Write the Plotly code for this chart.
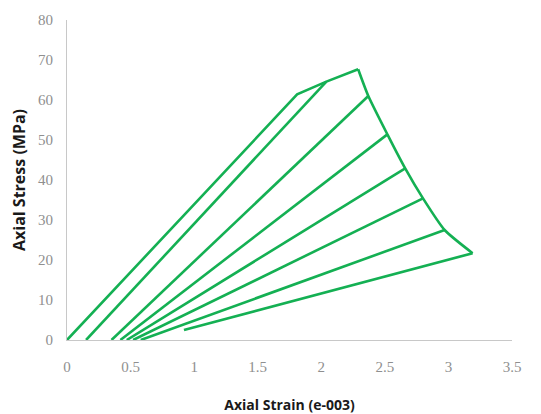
import plotly.graph_objects as go

# Loading branch (pre-peak)
loading_strain = [0.0, 1.81, 2.04, 2.29]
loading_stress = [0.0, 61.4, 64.6, 67.7]

# Post-peak envelope
envelope_strain = [2.29, 2.37, 2.52, 2.66, 2.80, 2.97, 3.19]
envelope_stress = [67.7, 61.0, 51.4, 42.9, 35.4, 27.5, 21.7]

# Unloading lines: start point on the curve -> end point
unload_start_strain = [2.04, 2.37, 2.52, 2.66, 2.80, 2.97, 3.19]
unload_start_stress = [64.6, 61.0, 51.4, 42.9, 35.4, 27.5, 21.7]
unload_end_strain = [0.15, 0.35, 0.42, 0.47, 0.52, 0.58, 0.92]
unload_end_stress = [0.0, 0.0, 0.0, 0.0, 0.0, 0.0, 2.5]

x_ticks = [0, 0.5, 1, 1.5, 2, 2.5, 3, 3.5]
x_tick_labels = ["0", "0.5", "1", "1.5", "2", "2.5", "3", "3.5"]
y_ticks = [0, 10, 20, 30, 40, 50, 60, 70, 80]

GREEN = "#14b053"
LW = 2.6

fig = go.Figure()
fig.add_trace(go.Scatter(x=loading_strain, y=loading_stress, mode="lines",
                         line=dict(color=GREEN, width=LW), showlegend=False))
fig.add_trace(go.Scatter(x=envelope_strain, y=envelope_stress, mode="lines",
                         line=dict(color=GREEN, width=LW, shape="spline", smoothing=0.6),
                         showlegend=False))
for xs, ys, xe, ye in zip(unload_start_strain, unload_start_stress,
                          unload_end_strain, unload_end_stress):
    fig.add_trace(go.Scatter(x=[xs, xe], y=[ys, ye], mode="lines",
                             line=dict(color=GREEN, width=LW), showlegend=False))

tick_font = dict(family="Liberation Serif", size=15, color="#8f8f8f")

# page body has an 8px margin, so margins are shifted by -8 px on left/top
fig.update_layout(
    width=541, height=414,
    margin=dict(l=59, r=37, t=12, b=82),
    paper_bgcolor="white", plot_bgcolor="white",
    xaxis=dict(range=[0, 3.5], tickvals=x_ticks, ticktext=x_tick_labels, automargin=False,
               showgrid=False, zeroline=False, showline=True, linecolor="#c8c8c8",
               linewidth=1, ticks="", tickfont=tick_font, ticklabelstandoff=13,
               title=dict(text="<b>Axial Strain (e-003)</b>",
                          font=dict(family="Open Sans", size=14, color="#1a1a1a"), standoff=26)),
    yaxis=dict(range=[0, 80], tickvals=y_ticks, automargin=False,
               showgrid=False, zeroline=False, showline=True, linecolor="#c8c8c8",
               linewidth=1, ticks="", tickfont=tick_font, ticklabelstandoff=10,
               title=dict(text="<b>Axial Stress (MPa)</b>",
                          font=dict(family="Open Sans", size=16, color="#1a1a1a"), standoff=8)),
)

fig.write_html("out.html")
